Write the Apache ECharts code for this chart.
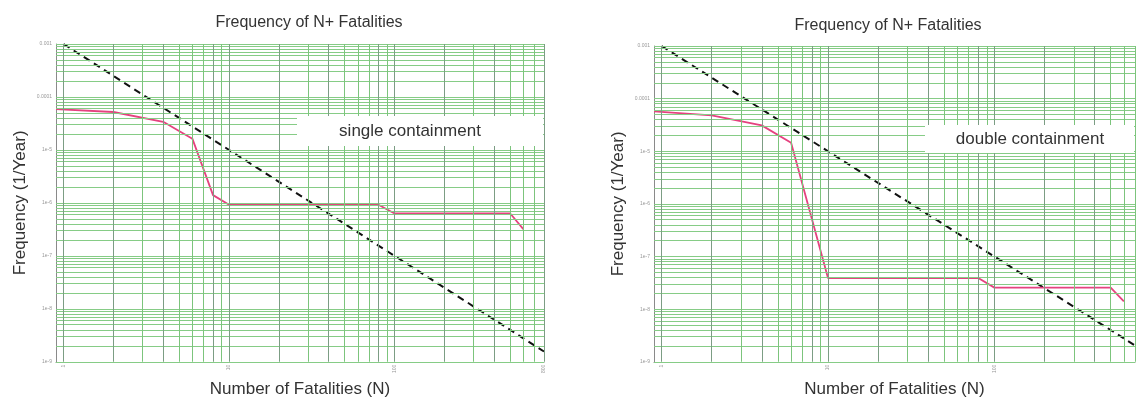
<!DOCTYPE html>
<html style="height: 100%">
  <head>
    <meta charset="utf-8" />
  </head>
  <body style="height: 100%; margin: 0; background: #fff">
    <div id="container" style="width: 1136px; height: 403px"></div>

    <script
      type="text/javascript"
      src="https://cdn.jsdelivr.net/npm/echarts@6/dist/echarts.min.js"
    ></script>

    <script type="text/javascript">
      var dom = document.getElementById("container");
      var myChart = echarts.init(dom);

      // criterion line (dashed), same in both panels
      var critLeftN = [1, 800];
      var critLeftF = [1e-3, 1.56e-9];
      var critRightN = [1, 700];
      var critRightF = [1e-3, 2.04e-9];

      // single containment F-N curve
      var singleN = [0.9, 2, 4, 6, 8, 10, 80, 100, 500, 600];
      var singleF = [5.9e-5, 5.2e-5, 3.4e-5, 1.63e-5, 1.4e-6, 9.2e-7, 9.2e-7, 6.3e-7, 6.3e-7, 3.2e-7];

      // double containment F-N curve
      var doubleN = [0.9, 2, 4, 6, 10, 80, 100, 500, 600];
      var doubleF = [5.7e-5, 4.8e-5, 3.1e-5, 1.45e-5, 3.9e-8, 3.9e-8, 2.56e-8, 2.56e-8, 1.4e-8];

      // tick labels
      var xLabelsLeft = ["1", "10", "100", "800"];
      var xLabelsRight = ["1", "10", "100"];
      var yLabels = { "-3": "0.001", "-4": "0.0001", "-5": "1e-5", "-6": "1e-6", "-7": "1e-7", "-8": "1e-8", "-9": "1e-9" };

      // log paper grid lines
      var xDecades = [1, 10, 100];
      var yDecades = [1e-9, 1e-8, 1e-7, 1e-6, 1e-5, 1e-4, 1e-3];
      var steps = [1, 2, 3, 4, 5, 6, 7, 8, 9];
      var darkSteps = [1, 2, 4, 8];

      var X_MIN = 0.9, Y_MIN = 1e-9, Y_MAX = 1e-3;

      function pairs(xs, ys) {
        return xs.map(function (x, i) { return [x, ys[i]]; });
      }

      function vLines(xMax, dark) {
        var data = [];
        xDecades.forEach(function (d) {
          steps.forEach(function (s) {
            var v = +(d * s).toPrecision(6);
            if (v > xMax || (darkSteps.indexOf(s) >= 0) !== dark) return;
            data.push([{ coord: [v, Y_MIN] }, { coord: [v, Y_MAX] }]);
          });
        });
        return data;
      }

      function hLines(xMax) {
        var data = [];
        yDecades.forEach(function (d) {
          steps.forEach(function (s) {
            var v = +(d * s).toPrecision(6);
            if (v > Y_MAX) return;
            data.push([{ coord: [X_MIN, v] }, { coord: [xMax, v] }]);
          });
        });
        return data;
      }

      function gridSeries(idx, lines, color) {
        return {
          type: "line",
          xAxisIndex: idx,
          yAxisIndex: idx,
          data: [],
          silent: true,
          z: 1,
          markLine: {
            silent: true,
            symbol: "none",
            animation: false,
            label: { show: false },
            emphasis: { disabled: true },
            lineStyle: { color: color, type: "solid", width: 1, opacity: 1 },
            data: lines,
          },
        };
      }

      function xAxisOf(idx, max, labels) {
        return {
          type: "log",
          gridIndex: idx,
          min: X_MIN,
          max: max,
          name: "Number of Fatalities (N)",
          nameLocation: "middle",
          nameGap: 16,
          nameTextStyle: { fontSize: 17, color: "#333" },
          axisLine: { lineStyle: { color: "#8a8a8a" } },
          axisTick: { show: false },
          splitLine: { show: false },
          axisLabel: {
            fontSize: 5,
            color: "#999",
            rotate: 90,
            margin: 3,
            formatter: function (v) {
              var s = String(+v.toPrecision(6));
              return labels.indexOf(s) >= 0 ? s : "";
            },
          },
        };
      }

      function yAxisOf(idx) {
        return {
          type: "log",
          gridIndex: idx,
          min: Y_MIN,
          max: Y_MAX,
          name: "Frequency (1/Year)",
          nameLocation: "middle",
          nameGap: 27,
          nameTextStyle: { fontSize: 17, color: "#333" },
          axisLine: { lineStyle: { color: "#8a8a8a" } },
          axisTick: { show: false },
          splitLine: { show: false },
          axisLabel: {
            fontSize: 5,
            color: "#999",
            margin: 4,
            formatter: function (v) {
              var e = Math.round(Math.log10(v));
              return yLabels[e] || "";
            },
          },
        };
      }

      function critSeries(idx, n, f) {
        return {
          type: "line",
          xAxisIndex: idx,
          yAxisIndex: idx,
          data: pairs(n, f),
          symbol: "none",
          z: 3,
          lineStyle: { color: "#111", width: 2, type: [7, 5] },
        };
      }

      function curveSeries(idx, n, f) {
        return {
          type: "line",
          xAxisIndex: idx,
          yAxisIndex: idx,
          data: pairs(n, f),
          symbol: "none",
          z: 4,
          lineStyle: { color: "#e5427f", width: 1.8 },
        };
      }

      var option = {
        backgroundColor: "#fff",
        animation: false,
        textStyle: { fontFamily: "Liberation Sans" },
        title: [
          {
            text: "Frequency of N+ Fatalities",
            left: 304,
            top: 10,
            textAlign: "center",
            textStyle: { fontSize: 16, fontWeight: "normal", color: "#333" },
          },
          {
            text: "Frequency of N+ Fatalities",
            left: 883,
            top: 13,
            textAlign: "center",
            textStyle: { fontSize: 16, fontWeight: "normal", color: "#333" },
          },
        ],
        grid: [
          { left: 56, top: 44, width: 488, height: 323 },
          { left: 654, top: 46, width: 481, height: 323 },
        ],
        xAxis: [xAxisOf(0, 800, xLabelsLeft), xAxisOf(1, 700, xLabelsRight)],
        yAxis: [yAxisOf(0), yAxisOf(1)],
        series: [
          gridSeries(0, hLines(800), "#86cc86"),
          gridSeries(0, vLines(800, false), "#7cc47c"),
          gridSeries(0, vLines(800, true), "#7c9d84"),
          critSeries(0, critLeftN, critLeftF),
          curveSeries(0, singleN, singleF),
          gridSeries(1, hLines(700), "#86cc86"),
          gridSeries(1, vLines(700, false), "#7cc47c"),
          gridSeries(1, vLines(700, true), "#7c9d84"),
          critSeries(1, critRightN, critRightF),
          curveSeries(1, doubleN, doubleF),
        ],
        graphic: [
          { type: "rect", z: 100, shape: { x: 297, y: 116, width: 246, height: 30 }, style: { fill: "#fff" } },
          { type: "text", z: 101, x: 410, y: 131, style: { text: "single containment", fontSize: 17, fill: "#333", align: "center", verticalAlign: "middle", fontFamily: "Liberation Sans" } },
          { type: "rect", z: 100, shape: { x: 925, y: 125, width: 209, height: 28 }, style: { fill: "#fff" } },
          { type: "text", z: 101, x: 1030, y: 139, style: { text: "double containment", fontSize: 17, fill: "#333", align: "center", verticalAlign: "middle", fontFamily: "Liberation Sans" } },
        ],
      };

      myChart.setOption(option);
    </script>
  </body>
</html>
